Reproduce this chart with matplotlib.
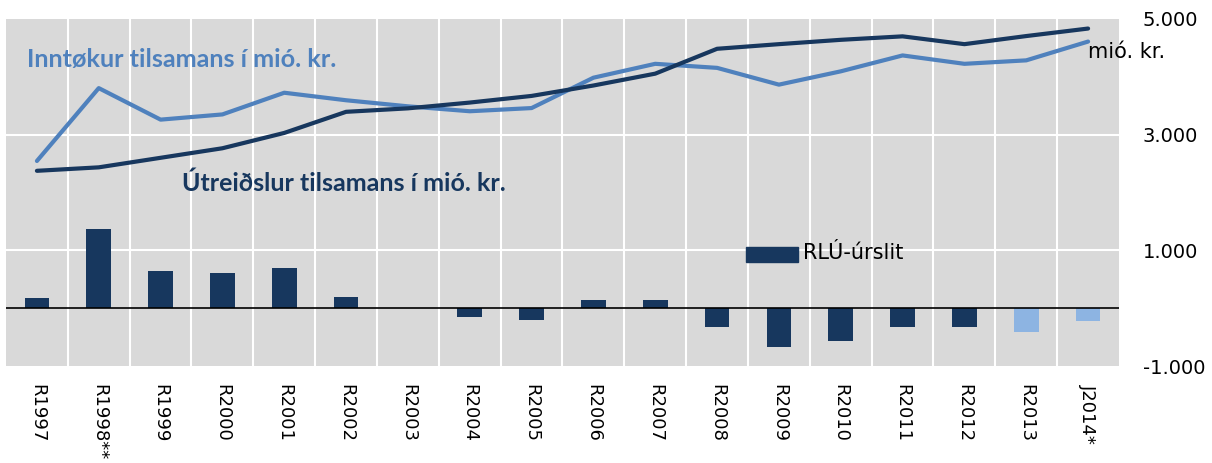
import matplotlib
matplotlib.use("Agg")
import matplotlib.pyplot as plt
import numpy as np

categories = ["R1997", "R1998**", "R1999", "R2000", "R2001", "R2002", "R2003",
              "R2004", "R2005", "R2006", "R2007", "R2008", "R2009", "R2010",
              "R2011", "R2012", "R2013", "J2014*"]
inntokur = [2545, 3805, 3260, 3350, 3725, 3595, 3490, 3405, 3460, 3985, 4225,
            4155, 3865, 4095, 4370, 4225, 4285, 4610]
utreidslur = [2375, 2435, 2600, 2765, 3030, 3395, 3455, 3555, 3670, 3850, 4055,
              4485, 4565, 4640, 4700, 4565, 4705, 4835]
rlu = [170, 1370, 645, 605, 695, 195, 8, -145, -210, 140, 140, -330, -680,
       -565, -320, -330, -415, -230]
bar_colors = ["#17375E"] * 16 + ["#8DB4E2"] * 2
yticks = [-1000, 1000, 3000, 5000]
ytick_labels = ["-1.000", "1.000", "3.000", "5.000"]

fig = plt.figure(figsize=(12.12, 4.63), dpi=100)
ax = fig.add_axes([6/1212, 1 - 366/463, 1113/1212, 347/463])
ax.set_facecolor("#D9D9D9")
x = np.arange(len(categories))
ax.set_xlim(-0.5, len(categories) - 0.5)
ax.set_ylim(-1000, 5000)

for b in np.arange(0.5, len(categories) - 0.5, 1.0):
    ax.axvline(b, color="white", lw=1.5, zorder=1)
for yv in [1000, 3000]:
    ax.axhline(yv, color="white", lw=1.5, zorder=1)

ax.bar(x, rlu, width=0.4, color=bar_colors, zorder=2)
ax.axhline(0, color="black", lw=1.2, zorder=3)
ax.plot(x, inntokur, color="#4F81BD", lw=3, zorder=4, solid_capstyle="round")
ax.plot(x, utreidslur, color="#17375E", lw=3, zorder=5, solid_capstyle="round")

for s in ax.spines.values():
    s.set_visible(False)
ax.yaxis.tick_right()
ax.set_yticks(yticks)
ax.set_yticklabels(ytick_labels, fontsize=14, family="DejaVu Sans")
ax.tick_params(axis="y", length=0, pad=17)
ax.set_xticks(x)
ax.set_xticklabels(categories, rotation=270, fontsize=13, va="top", ha="center")
ax.tick_params(axis="x", length=0, pad=13)

fig.text(27/1212, 1 - 59/463, "Inntøkur tilsamans í mió. kr.", color="#4F81BD",
         fontsize=18.2, fontweight="bold", family="Lato", va="center", ha="left")
fig.text(182/1212, 1 - 183/463, "Útreiðslur tilsamans í mió. kr.", color="#17375E",
         fontsize=18.0, fontweight="bold", family="Lato", va="center", ha="left")
fig.text(1088/1212, 1 - 52/463, "mió. kr.", color="black", fontsize=15,
         family="DejaVu Sans", va="center", ha="left")

# legend marker for bars
ax.add_patch(plt.Rectangle((0.665, 0.2997), 0.0467, 0.043, transform=ax.transAxes,
                           color="#17375E", zorder=6))
fig.text(803/1212, 1 - 253/463, "RLÚ-úrslit", color="black", fontsize=15,
         family="DejaVu Sans", va="center", ha="left")

fig.savefig("out.png", dpi=100)
